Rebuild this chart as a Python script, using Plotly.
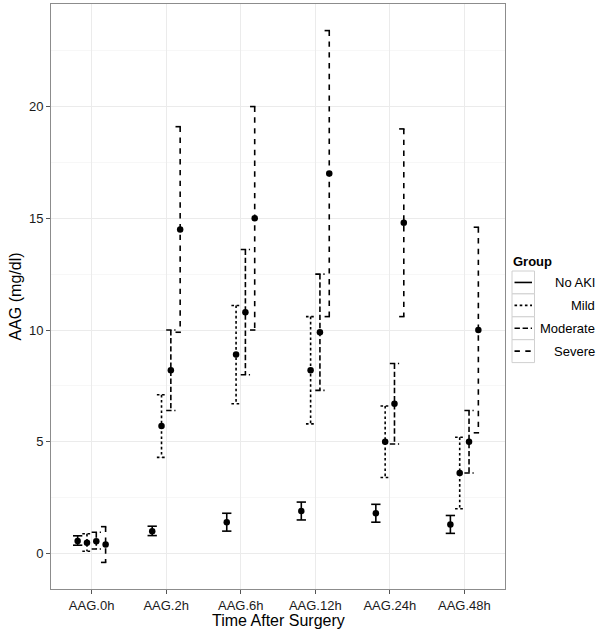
import plotly.graph_objects as go

# ---------------- data ----------------
categories = ["AAG.0h", "AAG.2h", "AAG.6h", "AAG.12h", "AAG.24h", "AAG.48h"]
groups = ["No AKI", "Mild", "Moderate", "Severe"]

noaki_mean = [0.56, 1.0, 1.4, 1.9, 1.8, 1.3]
noaki_low = [0.37, 0.8, 1.0, 1.5, 1.4, 0.9]
noaki_high = [0.79, 1.22, 1.8, 2.3, 2.2, 1.7]

mild_mean = [0.48, 5.7, 8.9, 8.2, 5.0, 3.6]
mild_low = [0.1, 4.3, 6.7, 5.8, 3.4, 2.0]
mild_high = [0.88, 7.1, 11.1, 10.6, 6.6, 5.2]

moderate_mean = [0.55, 8.2, 10.8, 9.9, 6.7, 5.0]
moderate_low = [0.2, 6.4, 8.0, 7.3, 4.9, 3.6]
moderate_high = [0.95, 10.0, 13.6, 12.5, 8.5, 6.4]

severe_mean = [0.4, 14.5, 15.0, 17.0, 14.8, 10.0]
severe_low = [-0.4, 9.9, 10.0, 10.6, 10.6, 5.4]
severe_high = [1.2, 19.1, 20.0, 23.4, 19.0, 14.6]

y_ticks = [0, 5, 10, 15, 20]

# ---------------- style ----------------
FONT = "Liberation Sans, Arial, Helvetica, sans-serif"
dash_styles = {"No AKI": "solid", "Mild": "2.6px,2.6px",
               "Moderate": "5.4px,2.7px", "Severe": "5.4px,5.4px"}
LW = 1.6
DODGE = 0.125
CAP = 0.125

series = {
    "No AKI": (noaki_mean, noaki_low, noaki_high),
    "Mild": (mild_mean, mild_low, mild_high),
    "Moderate": (moderate_mean, moderate_low, moderate_high),
    "Severe": (severe_mean, severe_low, severe_high),
}

fig = go.Figure()

pt_x, pt_y = [], []
for gi, g in enumerate(groups):
    means, lows, highs = series[g]
    off = (gi - (len(groups) - 1) / 2) * DODGE
    xs, ys = [], []
    for ci in range(len(categories)):
        x = ci + 1 + off
        x0, x1 = x - CAP / 2, x + CAP / 2
        lo, hi = lows[ci], highs[ci]
        xs += [x0, x1, None, x, x, None, x0, x1, None]
        ys += [hi, hi, None, hi, lo, None, lo, lo, None]
        pt_x.append(x)
        pt_y.append(means[ci])
    fig.add_trace(go.Scatter(
        x=xs, y=ys, mode="lines", name=g, showlegend=False,
        connectgaps=False, hoverinfo="skip",
        line=dict(color="black", width=LW, dash=dash_styles[g]),
    ))

fig.add_trace(go.Scatter(
    x=pt_x, y=pt_y, mode="markers", showlegend=False,
    marker=dict(color="black", size=6.5, line=dict(width=0)),
))

# ---------------- layout ----------------
W, H = 600, 633
L, R, T, B = 51, 95, 4, 44
pw, ph = W - L - R, H - T - B


def px_x(p):
    return (p - L) / pw


def px_y(p):
    return (H - B - p) / ph


fig.update_layout(
    width=W, height=H,
    margin=dict(l=L, r=R, t=T, b=B, pad=0),
    paper_bgcolor="white", plot_bgcolor="white",
    font=dict(family=FONT, size=13, color="#1a1a1a"),
    showlegend=False,
    xaxis=dict(
        range=[0.455, 6.545], tickmode="array",
        tickvals=list(range(1, len(categories) + 1)), ticktext=categories,
        showgrid=True, gridcolor="#EBEBEB", gridwidth=1,
        zeroline=False, showline=True, mirror=True, linecolor="#8C8C8C", linewidth=1,
        ticks="outside", ticklen=4, tickcolor="#555555", tickwidth=1,
        tickfont=dict(size=13, color="#1a1a1a"), fixedrange=True,
    ),
    yaxis=dict(
        range=[-1.59, 24.59], tickmode="array", tickvals=y_ticks,
        showgrid=True, gridcolor="#EBEBEB", gridwidth=1,
        minor=dict(tickmode="array", tickvals=[2.5, 7.5, 12.5, 17.5, 22.5],
                   showgrid=True, gridcolor="#F7F7F7", gridwidth=1, ticks=""),
        zeroline=False, showline=True, mirror=True, linecolor="#8C8C8C", linewidth=1,
        ticks="outside", ticklen=4, tickcolor="#555555", tickwidth=1,
        tickfont=dict(size=13, color="#1a1a1a"), fixedrange=True,
    ),
)

annotations = [
    dict(text="Time After Surgery", xref="paper", yref="paper",
         x=0.5, y=px_y(620), xanchor="center", yanchor="middle",
         showarrow=False, font=dict(size=16, color="black")),
    dict(text="AAG (mg/dl)", xref="paper", yref="paper",
         x=px_x(15), y=0.5, xanchor="center", yanchor="middle", textangle=-90,
         showarrow=False, font=dict(size=16, color="black")),
    dict(text="<b>Group</b>", xref="paper", yref="paper",
         x=px_x(511), y=px_y(261), xanchor="left", yanchor="middle",
         showarrow=False, font=dict(size=13, color="black")),
]

shapes = []
key_top, key_h = 271.0, 22.9
for gi, g in enumerate(groups):
    t = key_top + gi * key_h
    b = t + key_h
    c = (t + b) / 2
    shapes.append(dict(type="rect", xref="paper", yref="paper",
                       x0=px_x(512), x1=px_x(534.5), y0=px_y(b), y1=px_y(t),
                       line=dict(color="#D0D0D0", width=1), fillcolor="white"))
    shapes.append(dict(type="line", xref="paper", yref="paper",
                       x0=px_x(514.5), x1=px_x(532), y0=px_y(c), y1=px_y(c),
                       line=dict(color="black", width=LW, dash=dash_styles[g])))
    annotations.append(dict(text=g, xref="paper", yref="paper",
                            x=px_x(597), y=px_y(c), xanchor="right", yanchor="middle",
                            showarrow=False, font=dict(size=13, color="black")))

fig.update_layout(annotations=annotations, shapes=shapes)

fig.write_html(
    "out.html",
    config={"displayModeBar": False},
    post_script="document.body.style.margin='0';document.body.style.padding='0';"
                "document.body.style.overflow='hidden';",
)
